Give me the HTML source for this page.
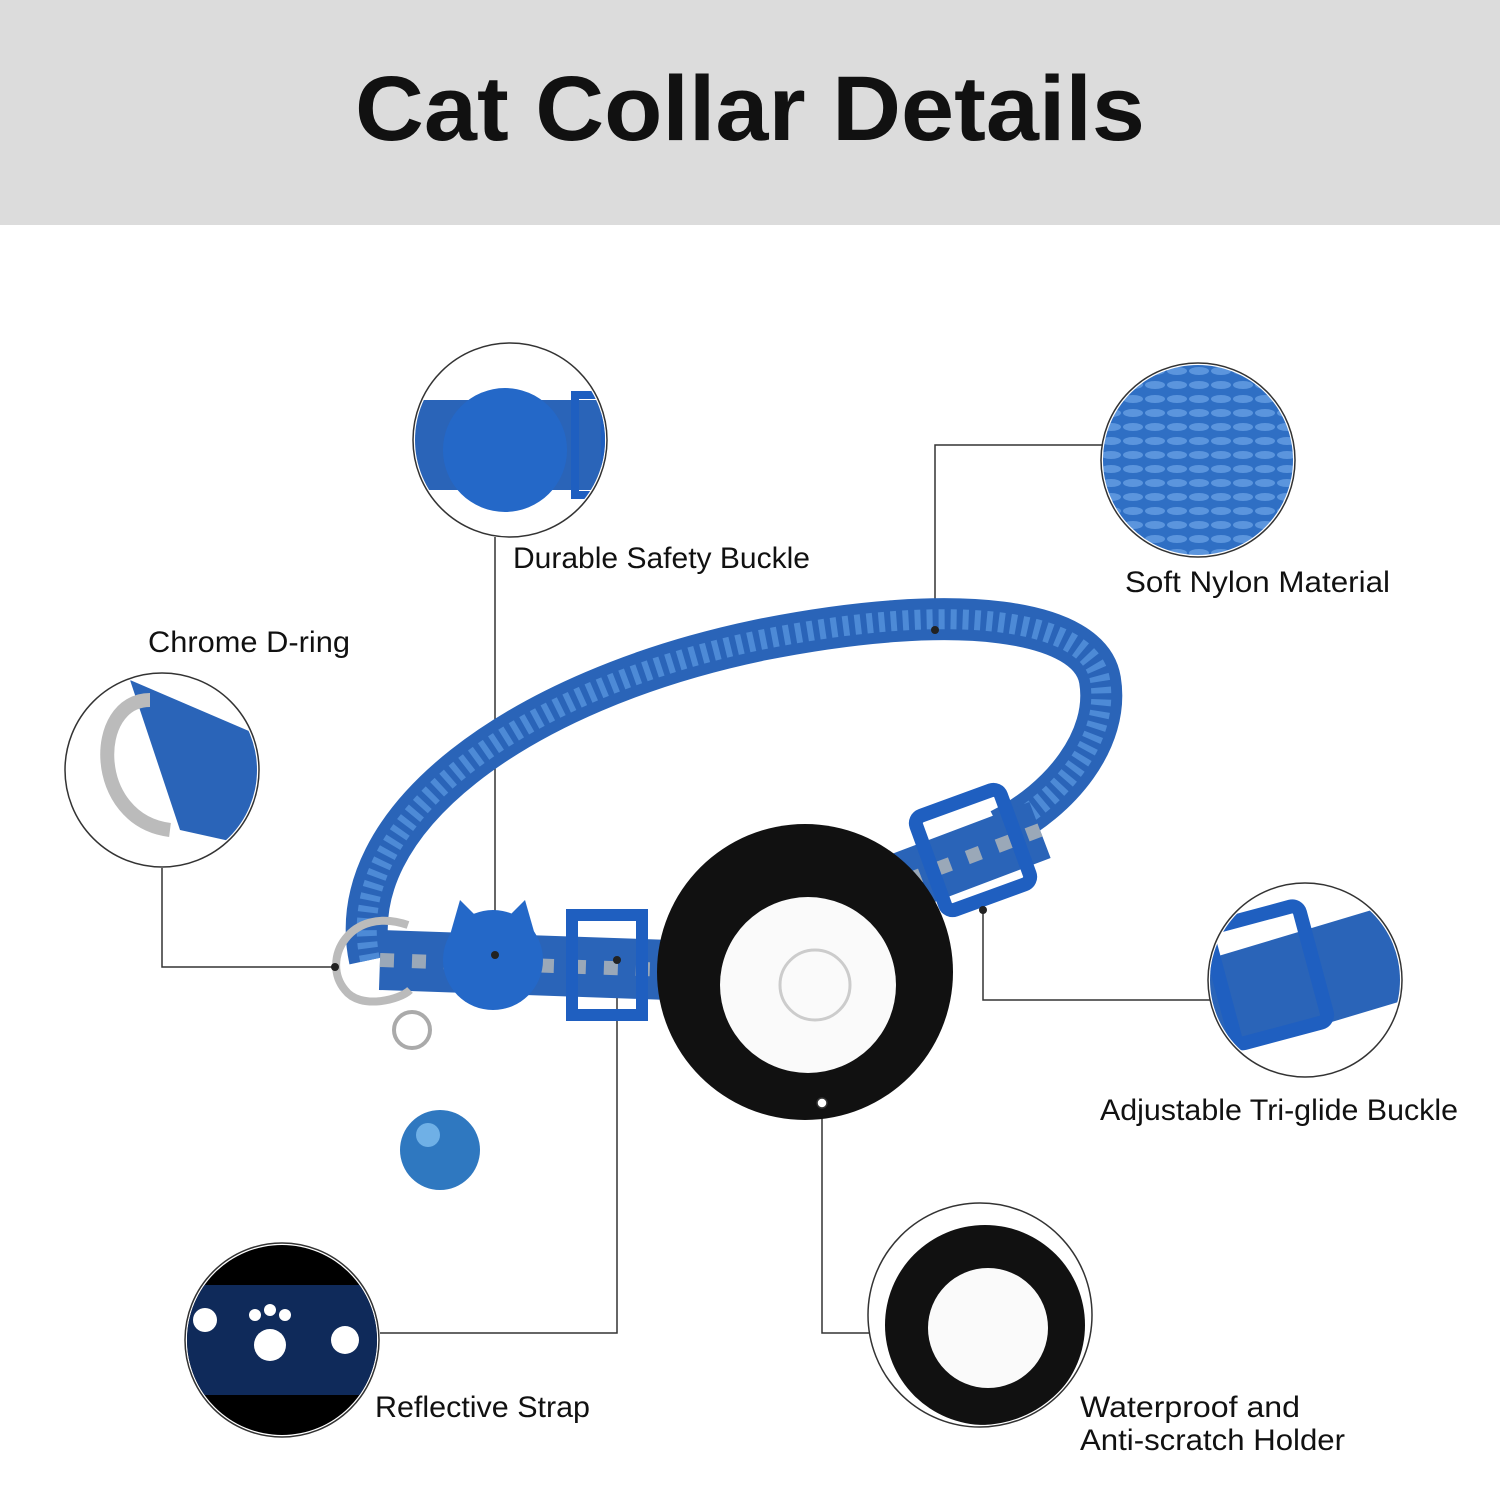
<!DOCTYPE html>
<html><head><meta charset="utf-8"><style>
html,body{margin:0;padding:0;background:#fff}
svg{display:block}
text{font-family:"Liberation Sans",sans-serif;fill:#111}
</style></head><body>
<svg width="1500" height="1500" viewBox="0 0 1500 1500" xmlns="http://www.w3.org/2000/svg">
<defs>
<pattern id="weave" width="22" height="14" patternUnits="userSpaceOnUse">
<rect width="22" height="14" fill="#2f6fc4"/>
<ellipse cx="11" cy="7" rx="10" ry="4" fill="#5b95dd"/>
</pattern>
<clipPath id="c1"><circle cx="510" cy="440" r="95"/></clipPath>
<clipPath id="c2"><circle cx="1198" cy="460" r="95"/></clipPath>
<clipPath id="c3"><circle cx="162" cy="770" r="95"/></clipPath>
<clipPath id="c4"><circle cx="1305" cy="980" r="95"/></clipPath>
<clipPath id="c5"><circle cx="282" cy="1340" r="95"/></clipPath>
<clipPath id="c6"><circle cx="980" cy="1315" r="110"/></clipPath>
</defs>
<rect x="0" y="0" width="1500" height="225" fill="#dcdcdc"/>
<text x="750" y="140" text-anchor="middle" font-size="92" font-weight="bold" textLength="790" lengthAdjust="spacingAndGlyphs">Cat Collar Details</text>

<!-- connector lines -->
<g stroke="#333" stroke-width="1.5" fill="none">
<polyline points="495,537 495,955"/>
<polyline points="1102,445 935,445 935,630"/>
<polyline points="162,868 162,967 335,967"/>
<polyline points="1210,1000 983,1000 983,910"/>
<polyline points="380,1333 617,1333 617,960"/>
<polyline points="870,1333 822,1333 822,1103"/>
</g>

<!-- collar band -->
<path d="M370,960 C340,820 520,690 760,640 C960,600 1090,620 1100,680 C1110,740 1060,800 1000,830" stroke="#2a64b8" stroke-width="42" fill="none"/>
<path d="M370,960 C340,820 520,690 760,640 C960,600 1090,620 1100,680 C1110,740 1060,800 1000,830" stroke="#4d8ad6" stroke-width="20" fill="none" stroke-dasharray="6 6"/>
<path d="M380,960 L670,970 L1040,830" stroke="#2a64b8" stroke-width="60" fill="none"/>
<path d="M380,960 L670,970 L1040,830" stroke="#9aa8b8" stroke-width="14" fill="none" stroke-dasharray="14 18"/>
<!-- tri-glide -->
<rect x="928" y="800" width="90" height="100" rx="8" fill="none" stroke="#1f5fc0" stroke-width="14" transform="rotate(-20 973 850)"/>
<!-- slide -->
<rect x="572" y="915" width="70" height="100" fill="none" stroke="#1f5fc0" stroke-width="12"/>
<!-- buckle -->
<circle cx="493" cy="960" r="50" fill="#2468c8"/>
<polygon points="450,935 460,900 480,920" fill="#2468c8"/>
<polygon points="535,935 525,900 505,920" fill="#2468c8"/>
<!-- d ring -->
<path d="M408,925 C350,905 320,960 345,990 C360,1010 400,1000 410,990" stroke="#bbb" stroke-width="8" fill="none"/>
<circle cx="412" cy="1030" r="18" fill="none" stroke="#aaa" stroke-width="4"/>
<circle cx="440" cy="1150" r="40" fill="#2f78c0"/>
<circle cx="428" cy="1135" r="12" fill="#6fb0e6"/>
<!-- airtag -->
<circle cx="805" cy="972" r="148" fill="#111"/>
<circle cx="808" cy="985" r="88" fill="#fafafa"/>
<circle cx="815" cy="985" r="35" fill="none" stroke="#ccc" stroke-width="3"/>
<circle cx="822" cy="1103" r="5" fill="#fff" stroke="#333" stroke-width="1.5"/>
<circle cx="495" cy="955" r="4" fill="#222"/>
<circle cx="935" cy="630" r="4" fill="#222"/>
<circle cx="335" cy="967" r="4" fill="#222"/>
<circle cx="983" cy="910" r="4" fill="#222"/>
<circle cx="617" cy="960" r="4" fill="#222"/>

<!-- detail circles -->
<g clip-path="url(#c1)">
<rect x="410" y="340" width="200" height="200" fill="#fff"/>
<rect x="410" y="400" width="200" height="90" fill="#2a64b8"/>
<circle cx="505" cy="450" r="62" fill="#2468c8"/>
<rect x="575" y="395" width="30" height="100" fill="none" stroke="#1f5fc0" stroke-width="8"/>
</g>
<circle cx="510" cy="440" r="97" fill="none" stroke="#333" stroke-width="1.5"/>

<g clip-path="url(#c2)"><rect x="1100" y="360" width="200" height="200" fill="url(#weave)"/></g>
<circle cx="1198" cy="460" r="97" fill="none" stroke="#333" stroke-width="1.5"/>

<g clip-path="url(#c3)">
<rect x="60" y="670" width="210" height="200" fill="#fff"/>
<path d="M130,680 L270,740 L270,850 L180,830 Z" fill="#2a64b8"/>
<path d="M150,700 C90,700 90,820 170,830" stroke="#bbb" stroke-width="14" fill="none"/>
</g>
<circle cx="162" cy="770" r="97" fill="none" stroke="#333" stroke-width="1.5"/>

<g clip-path="url(#c4)">
<rect x="1205" y="880" width="200" height="200" fill="#fff"/>
<path d="M1205,960 L1405,900 L1405,1000 L1205,1060 Z" fill="#2a64b8"/>
<rect x="1220" y="915" width="95" height="120" rx="8" fill="none" stroke="#1f5fc0" stroke-width="14" transform="rotate(-15 1267 975)"/>
</g>
<circle cx="1305" cy="980" r="97" fill="none" stroke="#333" stroke-width="1.5"/>

<g clip-path="url(#c5)">
<rect x="185" y="1240" width="200" height="200" fill="#000"/>
<rect x="185" y="1285" width="200" height="110" fill="#0f2a5a"/>
<g fill="#fff"><circle cx="270" cy="1345" r="16"/><circle cx="255" cy="1315" r="6"/><circle cx="270" cy="1310" r="6"/><circle cx="285" cy="1315" r="6"/>
<circle cx="345" cy="1340" r="14"/><circle cx="205" cy="1320" r="12"/></g>
</g>
<circle cx="282" cy="1340" r="97" fill="none" stroke="#333" stroke-width="1.5"/>

<g clip-path="url(#c6)">
<rect x="865" y="1200" width="230" height="230" fill="#fff"/>
<circle cx="985" cy="1325" r="100" fill="#111"/>
<circle cx="988" cy="1328" r="60" fill="#fafafa"/>
</g>
<circle cx="980" cy="1315" r="112" fill="none" stroke="#333" stroke-width="1.5"/>

<!-- labels -->
<g font-size="30">
<text x="513" y="568" textLength="297" lengthAdjust="spacingAndGlyphs">Durable Safety Buckle</text>
<text x="1125" y="592" textLength="265" lengthAdjust="spacingAndGlyphs">Soft Nylon Material</text>
<text x="148" y="652" textLength="202" lengthAdjust="spacingAndGlyphs">Chrome D-ring</text>
<text x="1100" y="1120" textLength="358" lengthAdjust="spacingAndGlyphs">Adjustable Tri-glide Buckle</text>
<text x="375" y="1417" textLength="215" lengthAdjust="spacingAndGlyphs">Reflective Strap</text>
<text x="1080" y="1417" textLength="220" lengthAdjust="spacingAndGlyphs">Waterproof and</text>
<text x="1080" y="1450" textLength="265" lengthAdjust="spacingAndGlyphs">Anti-scratch Holder</text>
</g>
</svg>
</body></html>
